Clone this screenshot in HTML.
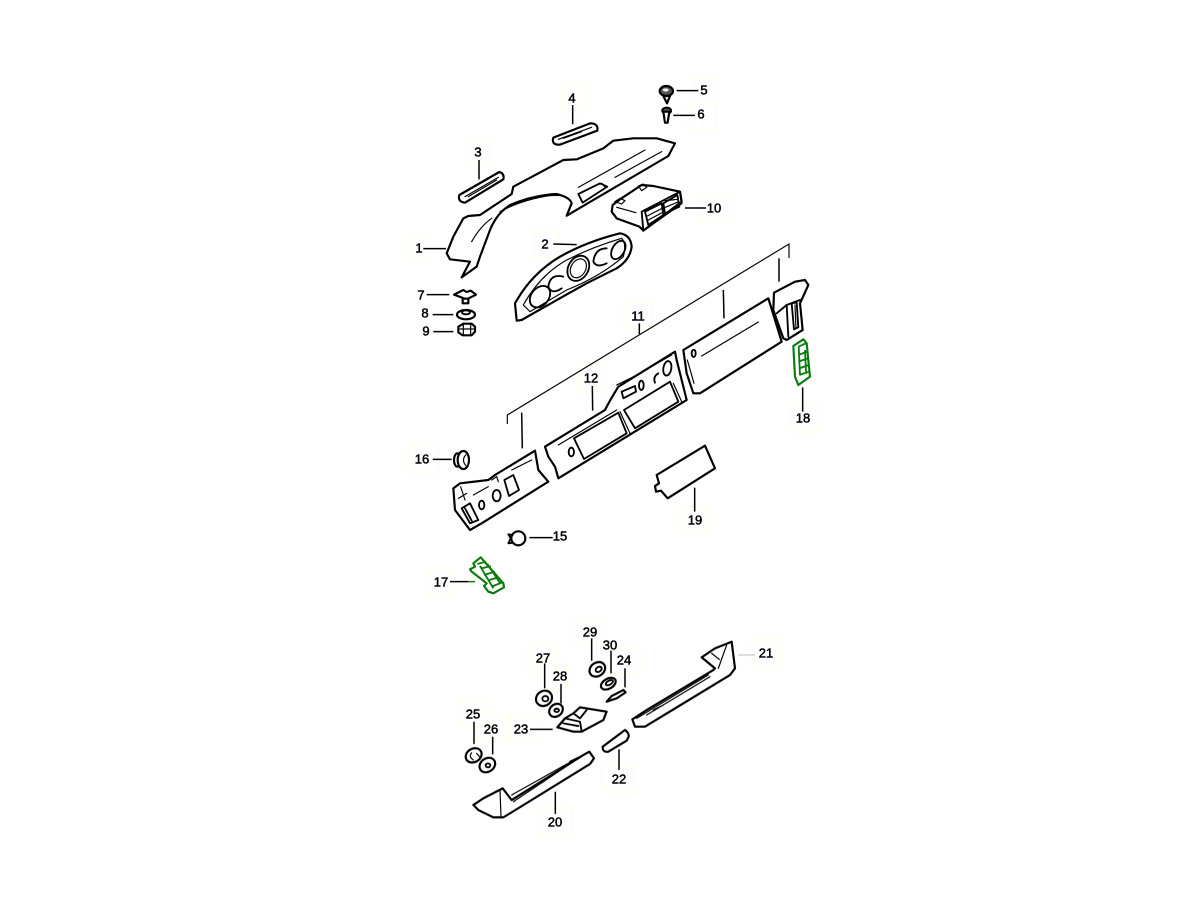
<!DOCTYPE html>
<html><head><meta charset="utf-8"><style>
html,body{margin:0;padding:0;background:#fff}
svg{display:block}
.o{fill:#fff;stroke:#000;stroke-width:6.5;stroke-linejoin:round;stroke-linecap:round}
.n{fill:none;stroke:#000;stroke-width:5.5;stroke-linejoin:round;stroke-linecap:round}
.t{fill:none;stroke:#000;stroke-width:3.5;stroke-linecap:round}
.l{fill:none;stroke:#000;stroke-width:4.5}
.g{fill:#fff;stroke:#0a7a0e;stroke-width:6.5;stroke-linejoin:round}
.gn{fill:none;stroke:#0a7a0e;stroke-width:5.5}
text{font:13px "Liberation Sans",sans-serif;fill:#000;stroke:#000;stroke-width:.5;text-anchor:middle;dominant-baseline:central}
.y{fill:none;stroke:#fdfde6;stroke-width:1}
</style></head><body>
<svg width="1200" height="900" viewBox="0 0 1200 900" xmlns="http://www.w3.org/2000/svg">
<defs><filter id="b" x="-5%" y="-5%" width="110%" height="110%"><feGaussianBlur stdDeviation=".22"/></filter></defs>
<rect width="1200" height="900" fill="#fff"/>
<g class="y">
<rect x="561" y="84" width="24" height="28"/><rect x="466" y="138" width="25" height="28"/><rect x="693" y="78" width="26" height="24"/><rect x="688" y="102" width="28" height="27"/>
<rect x="698" y="195" width="32" height="27"/><rect x="408" y="236" width="24" height="25"/><rect x="533" y="230" width="24" height="28"/><rect x="624" y="302" width="28" height="27"/>
<rect x="577" y="364" width="30" height="28"/><rect x="789" y="405" width="29" height="27"/><rect x="408" y="446" width="29" height="27"/><rect x="680" y="506" width="30" height="28"/>
<rect x="426" y="569" width="28" height="27"/><rect x="752" y="640" width="30" height="28"/><rect x="575" y="620" width="32" height="25"/><rect x="528" y="644" width="30" height="28"/>
<rect x="538" y="664" width="30" height="26"/><rect x="608" y="647" width="32" height="26"/><rect x="458" y="700" width="30" height="27"/><rect x="476" y="714" width="34" height="28"/>
<rect x="506" y="715" width="32" height="27"/><rect x="603" y="766" width="32" height="26"/><rect x="538" y="808" width="34" height="28"/>
</g>
<g filter="url(#b)">
<!-- ===== upper section ===== -->
<g transform="translate(400,70) scale(.33333)">
<!-- part 1 -->
<path class="o" d="M140,550 L160,500 L190,445 L205,438 L240,435 L335,372 L340,350 L490,270 L530,268 L610,235 L640,212 L700,205 L770,205 L825,220 L805,258 L500,437 L515,400 Q510,382 470,372 Q400,375 330,405 Q290,430 270,480 L240,560 L230,590 L185,622 L210,575 L150,568 Z"/>
<path class="t" d="M300,425 Q360,392 440,378 Q490,372 505,385 M215,515 Q240,470 275,445 M535,352 L735,240 M645,322 L785,245"/>
<path class="n" d="M535,372 L600,340 L622,350 L548,398 Z M590,345 Q605,335 615,350"/>
<!-- part 3 -->
<path class="o" d="M178,375 L298,306 Q314,310 310,328 L195,398 Q172,395 178,375 Z"/>
<path class="t" d="M195,380 L295,322 M205,380 L290,330"/>
<!-- part 4 -->
<path class="o" d="M460,203 L570,160 Q596,160 592,182 L480,224 Q453,225 460,203 Z"/>
<path class="t" d="M475,208 L575,172 M490,205 L545,185"/>
<!-- part 5,6 -->
<ellipse class="o" cx="799" cy="63" rx="20" ry="15" style="fill:#555"/><path class="o" d="M790,78 L810,78 L801,100 Z"/><ellipse cx="797" cy="60" rx="9" ry="5" fill="#eee"/>
<ellipse class="o" cx="800" cy="122" rx="13" ry="9" style="fill:#555"/><path class="o" d="M790,125 L808,125 L803,158 L795,158 Z"/>
<!-- part 10 -->
<path class="o" d="M638,405 L660,388 L725,345 L760,348 L840,365 L845,395 L730,482 L718,470 L650,445 L635,425 Z"/>
<path class="n" d="M725,425 L840,365 L845,400 L730,482 Z"/>
<path class="t" d="M645,395 L660,385 L675,392 L665,402 Z M715,348 L730,342 L740,352 L725,362 Z M650,412 L708,428"/>
<path class="n" d="M735,425 L785,400 L790,435 L745,465 Z M790,400 L832,375 L838,410 L795,430 Z"/>
<path class="t" d="M742,438 L786,415 M745,450 L788,427 M795,392 L833,388 M796,412 L836,395"/>
<!-- part 2 -->
<path class="o" d="M345,700 Q395,610 480,560 Q560,515 660,490 Q692,495 695,530 Q690,570 650,595 L560,640 Q470,690 365,750 L350,752 Z"/>
<path class="t" d="M370,705 Q420,615 500,570 Q580,530 665,505 Q680,520 670,560 Q600,620 500,660 L390,725 Z"/>
<ellipse class="n" cx="420" cy="680" rx="26" ry="36" transform="rotate(40 420 680)"/>
<path class="n" d="M490,620 Q450,610 445,650 Q455,675 485,655"/>
<ellipse class="n" cx="535" cy="595" rx="30" ry="40" transform="rotate(30 535 595)"/>
<ellipse class="t" cx="535" cy="595" rx="22" ry="30" transform="rotate(30 535 595)"/>
<path class="n" d="M620,535 Q585,535 580,575 Q590,595 620,580"/>
<ellipse class="n" cx="655" cy="540" rx="18" ry="30" transform="rotate(30 655 540)"/>
<!-- leaders -->
<path class="l" d="M70,536 L138,536 M460,522 L530,524 M237,270 L237,328 M518,105 L518,163 M830,62 L895,62 M820,136 L885,136 M855,414 L918,414"/>
</g>

<!-- ===== mid section ===== -->
<g transform="translate(400,260) scale(.33333)">
<!-- 7 8 9 -->
<path class="o" d="M162,104 L190,90 L200,96 L212,92 L228,104 L200,118 Z"/><path class="o" d="M188,116 L205,116 L205,130 L188,130 Z"/>
<ellipse class="o" cx="198" cy="164" rx="27" ry="14"/><ellipse class="n" cx="198" cy="157" rx="12" ry="6"/>
<path class="o" d="M175,200 L190,191 L215,191 L225,200 L225,215 L215,226 L188,226 L175,217 Z"/><path class="t" d="M180,207 L220,207 M190,193 L190,224 M212,193 L212,224"/>
<!-- bracket 11 -->
<path d="M322,492 L322,465 L1167,-48 L1167,-6" fill="none" stroke="#000" stroke-width="3.5"/>
<path class="l" d="M1137,-5 L1137,65 M970,90 L972,175 M718,190 L718,222 M365,458 L367,565 M577,378 L578,452 M80,104 L148,104 M98,164 L160,164 M100,215 L160,215 M98,598 L155,598 M388,833 L458,833 M1208,382 L1208,455 M884,683 L884,755"/>
<!-- left panel -->
<path class="o" d="M160,685 L180,670 L265,660 L285,645 L405,572 L415,630 L445,665 L245,790 L210,810 L165,750 Z"/>
<path class="n" d="M185,745 L210,730 L235,780 L210,790 Z M195,745 L215,782"/>
<path class="n" d="M313,660 L340,645 L357,690 L327,708 Z"/>
<ellipse class="n" cx="290" cy="707" rx="12" ry="17"/><ellipse class="n" cx="245" cy="735" rx="8" ry="13"/>
<path class="t" d="M220,705 L265,680 M335,630 L395,600 M275,660 L290,650 L295,665 M182,680 L195,720 M175,715 L200,700"/>
<!-- center panel -->
<path class="o" d="M435,560 L615,450 Q630,420 655,380 L825,275 L830,300 L860,420 L475,655 L465,620 L445,590 Z"/>
<path class="n" d="M522,535 L655,458 L680,520 L552,597 Z M672,450 L810,365 L835,425 L705,505 Z M665,395 L705,378 L708,395 L670,415 Z"/>
<path class="t" d="M475,555 L650,450 M660,455 L690,520 M650,375 L725,338 M750,322 L815,285 M820,370 L845,425"/>
<ellipse class="n" cx="724" cy="376" rx="7" ry="14"/><path class="n" d="M775,340 Q758,350 765,368"/>
<ellipse class="n" cx="802" cy="325" rx="12" ry="22" transform="rotate(10 802 325)"/><ellipse class="n" cx="514" cy="576" rx="8" ry="13"/>
<!-- right panel -->
<path class="o" d="M850,270 L1105,115 L1145,245 L900,400 L880,400 L860,340 Z"/>
<path class="t" d="M905,288 L1075,186 M862,300 L882,370"/><ellipse class="n" cx="881" cy="280" rx="6" ry="11"/>
<!-- right end -->
<path class="o" d="M1122,98 L1185,65 L1215,60 L1225,75 L1200,130 L1208,210 L1160,240 L1150,235 L1120,150 Z"/>
<path class="n" d="M1130,160 L1160,135 L1200,120 M1175,130 L1190,127 L1195,202 L1182,208 Z M1160,135 L1165,230"/>
<path class="t" d="M1185,135 L1188,205"/>
<!-- 18 green -->
<path class="g" d="M1180,258 L1210,238 L1220,250 L1230,350 L1195,375 L1185,350 Z"/>
<path class="gn" d="M1195,260 L1218,250 M1195,285 L1222,275 M1195,305 L1224,295 M1198,325 L1226,315 M1198,345 L1228,335 M1196,260 L1200,345 M1215,270 L1218,335"/>
<!-- 19 -->
<path class="o" d="M770,645 L915,557 L945,625 L803,715 L783,692 L768,695 L765,678 L777,670 Z"/>
<!-- 16 -->
<ellipse class="o" cx="172" cy="600" rx="10" ry="20"/><ellipse class="o" cx="190" cy="600" rx="17" ry="27"/><path class="t" d="M197,585 Q184,600 197,616"/>
<!-- 15 -->
<circle class="o" cx="355" cy="835" r="21"/><path class="n" d="M338,825 L325,823 L332,835 L325,850 L340,848"/>
<!-- 17 green -->
<path class="g" d="M220,910 L242,892 L310,970 L312,982 L280,1000 L265,995 L252,978 L260,970 L215,935 L210,928 L225,920 Z"/>
<path class="gn" d="M232,912 L258,905 M245,925 L272,918 M252,945 L285,935 M268,960 L295,952 M275,980 L305,968 M240,918 L280,985 M262,912 L302,972"/>
<path class="l" d="M150,965 L205,965"/><path d="M205,965 L225,965" stroke="#0a7a0e" stroke-width="4.5"/>
</g>

<!-- ===== lower section ===== -->
<g transform="translate(450,620) scale(.33333)">
<!-- 20 -->
<path class="o" d="M70,555 L100,535 L158,505 L185,540 L400,405 L418,395 L432,415 L420,432 L180,580 L160,592 L130,592 L85,570 Z"/>
<path class="t" d="M150,510 L153,590 M185,525 L390,410 M190,545 L370,425"/>
<path class="n" d="M360,425 L395,408"/>
<!-- 21 -->
<path class="o" d="M755,112 L795,85 L845,65 L855,145 L840,165 L585,320 L555,320 L547,298 L590,270 L790,150 L795,145 Z"/>
<path class="t" d="M785,100 L808,118 M830,75 L805,145 M560,295 L775,165 M590,285 L780,170 M640,255 L610,270"/>
<!-- 22 -->
<path class="o" d="M458,380 L525,330 Q538,340 536,350 L530,362 L475,395 Q458,398 458,380 Z"/>
<!-- 23 -->
<path class="o" d="M322,322 L345,295 L370,280 L390,262 L470,275 L460,300 L395,335 L370,335 Z"/>
<path class="n" d="M345,295 L390,305 L395,335 M370,280 L390,295 L410,270 M340,310 L385,318"/>
<!-- 24 -->
<path class="o" d="M470,245 L485,228 L520,210 L527,217 L500,235 Z"/>
<!-- washers/nuts -->
<ellipse class="o" cx="442" cy="148" rx="25" ry="20" transform="rotate(-35 442 148)"/><ellipse class="n" cx="446" cy="148" rx="10" ry="7" transform="rotate(-35 446 148)"/>
<ellipse class="o" cx="475" cy="191" rx="24" ry="15" transform="rotate(-30 475 191)"/><ellipse class="n" cx="478" cy="188" rx="12" ry="6" transform="rotate(-30 478 188)"/>
<ellipse class="o" cx="282" cy="235" rx="25" ry="22" transform="rotate(-35 282 235)"/><ellipse class="n" cx="286" cy="236" rx="9" ry="8"/>
<ellipse class="o" cx="318" cy="271" rx="22" ry="18" transform="rotate(-40 318 271)"/><ellipse class="n" cx="320" cy="271" rx="7" ry="5"/>
<ellipse class="o" cx="71" cy="406" rx="25" ry="20" transform="rotate(-30 71 406)"/><path class="t" d="M65,398 Q55,410 70,420 M80,400 L90,412"/>
<ellipse class="o" cx="112" cy="435" rx="25" ry="20" transform="rotate(-35 112 435)"/><ellipse class="n" cx="114" cy="436" rx="7" ry="6"/>
<!-- leaders -->
<path class="l" d="M425,55 L425,122 M483,92 L483,160 M525,145 L525,202 M284,130 L284,205 M333,192 L333,250 M72,305 L72,372 M128,350 L128,403 M240,328 L308,328 M507,388 L507,450 M316,515 L316,582"/>
<path d="M865,105 L915,105" stroke="#bbb" stroke-width="3"/>
</g>
</g>
<!-- labels -->
<text x="704" y="90">5</text><text x="701" y="114">6</text><text x="572" y="98">4</text><text x="478" y="152">3</text>
<text x="714" y="208">10</text><text x="419" y="248">1</text><text x="545" y="244">2</text>
<text x="421" y="295">7</text><text x="425" y="313">8</text><text x="426" y="331">9</text>
<text x="638" y="316">11</text><text x="591" y="378">12</text><text x="803" y="418">18</text>
<text x="422" y="459">16</text><text x="695" y="520">19</text><text x="560" y="536">15</text><text x="441" y="582">17</text>
<text x="766" y="653">21</text><text x="590" y="632">29</text><text x="610" y="645">30</text><text x="624" y="660">24</text>
<text x="543" y="658">27</text><text x="560" y="676">28</text><text x="473" y="714">25</text><text x="491" y="729">26</text>
<text x="521" y="729">23</text><text x="619" y="779">22</text><text x="555" y="822">20</text>
</svg>
</body></html>
